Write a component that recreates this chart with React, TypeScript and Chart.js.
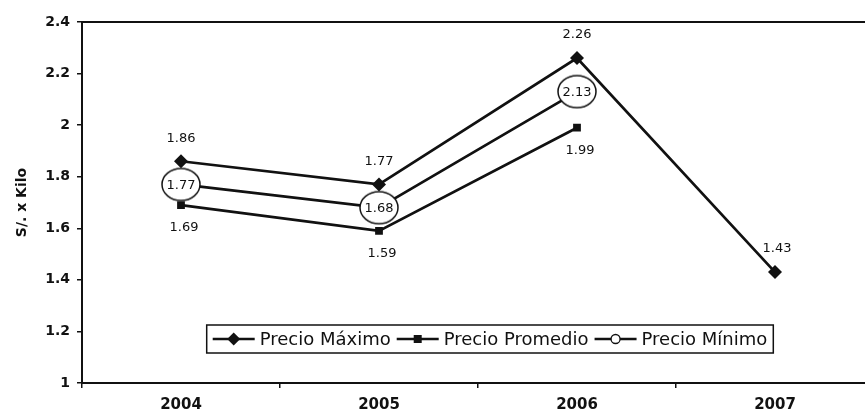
import React, { useEffect, useRef } from "react";
import { Chart, registerables } from "chart.js";

Chart.register(...registerables);

// Price series per year (S/. per kilo)
const years = ["2004", "2005", "2006", "2007"];
const precioMaximo = [1.86, 1.77, 2.26, 1.43];
const precioPromedio: (number | null)[] = [1.69, 1.59, 1.99, null];
const precioMinimo: (number | null)[] = [1.77, 1.68, 2.13, null];
const seriesNames = ["Precio Máximo", "Precio Promedio", "Precio Mínimo"];
const yAxisTitle = "S/. x Kilo";
const yMin = 1;
const yMax = 2.4;
const yStep = 0.2;

const FONT = "'DejaVu Sans', Arial, sans-serif";
const INK = "#111";

// open ellipse used as marker for the minimum-price series; the value sits inside it
function ellipseMarker(): HTMLCanvasElement {
  const c = document.createElement("canvas");
  c.width = 42;
  c.height = 36;
  const g = c.getContext("2d")!;
  g.beginPath();
  g.ellipse(21, 18, 19, 16, 0, 0, Math.PI * 2);
  g.fillStyle = "#fff";
  g.fill();
  g.lineWidth = 1.5;
  g.strokeStyle = INK;
  g.stroke();
  return c;
}

function drawMarker(ctx: CanvasRenderingContext2D, kind: number, x: number, y: number) {
  ctx.save();
  ctx.fillStyle = INK;
  ctx.strokeStyle = INK;
  ctx.beginPath();
  if (kind === 0) {
    const r = 6.5;
    ctx.moveTo(x, y - r);
    ctx.lineTo(x + r, y);
    ctx.lineTo(x, y + r);
    ctx.lineTo(x - r, y);
    ctx.closePath();
    ctx.fill();
  } else if (kind === 1) {
    ctx.rect(x - 4, y - 4, 8, 8);
    ctx.fill();
  } else {
    ctx.arc(x, y, 4.5, 0, Math.PI * 2);
    ctx.fillStyle = "#fff";
    ctx.fill();
    ctx.lineWidth = 1.3;
    ctx.stroke();
  }
  ctx.restore();
}

const decorations = {
  id: "decorations",
  afterDraw(chart: any) {
    const { ctx, chartArea } = chart;
    const { left, right, top, bottom } = chartArea;

    // plot frame
    ctx.save();
    ctx.strokeStyle = INK;
    ctx.lineWidth = 2;
    ctx.strokeRect(left, top, right - left, bottom - top);
    ctx.restore();

    // y axis title
    ctx.save();
    ctx.translate(22, (top + bottom) / 2);
    ctx.rotate(-Math.PI / 2);
    ctx.font = `bold 14px ${FONT}`;
    ctx.fillStyle = INK;
    ctx.textAlign = "center";
    ctx.textBaseline = "middle";
    ctx.fillText(yAxisTitle, 0, 0);
    ctx.restore();

    // value labels
    ctx.save();
    ctx.font = `13px ${FONT}`;
    ctx.fillStyle = INK;
    ctx.textAlign = "center";
    ctx.textBaseline = "middle";
    chart.data.datasets.forEach((ds: any, di: number) => {
      const meta = chart.getDatasetMeta(di);
      meta.data.forEach((pt: any, i: number) => {
        const v = ds.data[i];
        if (v === null || v === undefined) return;
        const txt = v.toFixed(2);
        if (di === 0) ctx.fillText(txt, pt.x + (i === 3 ? 2 : 0), pt.y - 23);
        else if (di === 1) ctx.fillText(txt, pt.x + 3, pt.y + 23);
        else ctx.fillText(txt, pt.x, pt.y + 1);
      });
    });
    ctx.restore();

    // legend box
    ctx.save();
    ctx.font = `18px ${FONT}`;
    const sample = 42;
    const gapAfterSample = 5;
    const gapAfterText = 6;
    const pad = 6;
    const widths = seriesNames.map((n) => ctx.measureText(n).width);
    let total = pad * 2;
    widths.forEach((w, i) => {
      total += sample + gapAfterSample + w + (i < widths.length - 1 ? gapAfterText : 0);
    });
    const boxH = 28;
    const cx = 490;
    const boxTop = 325;
    const boxLeft = cx - total / 2;
    ctx.fillStyle = "#fff";
    ctx.fillRect(boxLeft, boxTop, total, boxH);
    ctx.strokeStyle = INK;
    ctx.lineWidth = 1.5;
    ctx.strokeRect(boxLeft, boxTop, total, boxH);
    let x = boxLeft + pad;
    const my = boxTop + boxH / 2;
    seriesNames.forEach((name, i) => {
      ctx.beginPath();
      ctx.strokeStyle = INK;
      ctx.lineWidth = 2.5;
      ctx.moveTo(x, my);
      ctx.lineTo(x + sample, my);
      ctx.stroke();
      drawMarker(ctx, i, x + sample / 2, my);
      x += sample + gapAfterSample;
      ctx.fillStyle = INK;
      ctx.textAlign = "left";
      ctx.textBaseline = "middle";
      ctx.fillText(name, x, my + 1);
      x += widths[i] + gapAfterText;
    });
    ctx.restore();
  },
};

export default function App() {
  const canvasRef = useRef<HTMLCanvasElement | null>(null);

  useEffect(() => {
    const canvas = canvasRef.current;
    if (!canvas) return;
    const circle = ellipseMarker();
    const chart = new Chart(canvas, {
      type: "line",
      data: {
        labels: years,
        datasets: [
          {
            label: seriesNames[0],
            data: precioMaximo,
            borderColor: INK,
            backgroundColor: INK,
            borderWidth: 2.7,
            pointStyle: "rectRot",
            pointRadius: 7,
            pointBorderWidth: 0,
            tension: 0,
          },
          {
            label: seriesNames[1],
            data: precioPromedio,
            borderColor: INK,
            backgroundColor: INK,
            borderWidth: 2.7,
            pointStyle: "rect",
            pointRadius: 5.5,
            pointBorderWidth: 0,
            tension: 0,
          },
          {
            label: seriesNames[2],
            data: precioMinimo,
            borderColor: INK,
            backgroundColor: "#fff",
            borderWidth: 2.7,
            pointStyle: circle as any,
            pointRadius: 17,
            tension: 0,
          },
        ],
      },
      options: {
        animation: false,
        responsive: false,
        devicePixelRatio: 1,
        layout: { padding: { left: 0, top: 22, right: 26, bottom: 0 } },
        plugins: { legend: { display: false }, tooltip: { enabled: false }, title: { display: false } },
        scales: {
          x: {
            type: "category",
            offset: true,
            grid: {
              offset: true,
              drawOnChartArea: false,
              drawTicks: true,
              tickLength: 5,
              color: INK,
              lineWidth: 1.5,
            },
            border: { display: true, color: INK, width: 2 },
            ticks: {
              color: INK,
              font: { family: FONT, size: 15, weight: "bold" },
              padding: 8,
              maxRotation: 0,
            },
            afterFit: (s: any) => {
              s.height = 32;
            },
          },
          y: {
            min: yMin,
            max: yMax,
            grid: {
              drawOnChartArea: false,
              drawTicks: true,
              tickLength: 5,
              color: INK,
              lineWidth: 1.5,
            },
            border: { display: true, color: INK, width: 2 },
            ticks: {
              stepSize: yStep,
              color: INK,
              font: { family: FONT, size: 14, weight: "bold" },
              padding: 7,
              callback: (v: any) => String(Number(Number(v).toFixed(1))),
            },
            afterFit: (s: any) => {
              s.width = 82;
            },
          },
        },
      },
      plugins: [decorations],
    });
    return () => chart.destroy();
  }, []);

  return (
    <div
      style={{
        position: "fixed",
        left: 0,
        top: 0,
        width: 865,
        height: 415,
        overflow: "hidden",
        background: "#fff",
      }}
    >
      <canvas ref={canvasRef} width={900} height={415} style={{ display: "block", width: 900, height: 415 }} />
    </div>
  );
}
